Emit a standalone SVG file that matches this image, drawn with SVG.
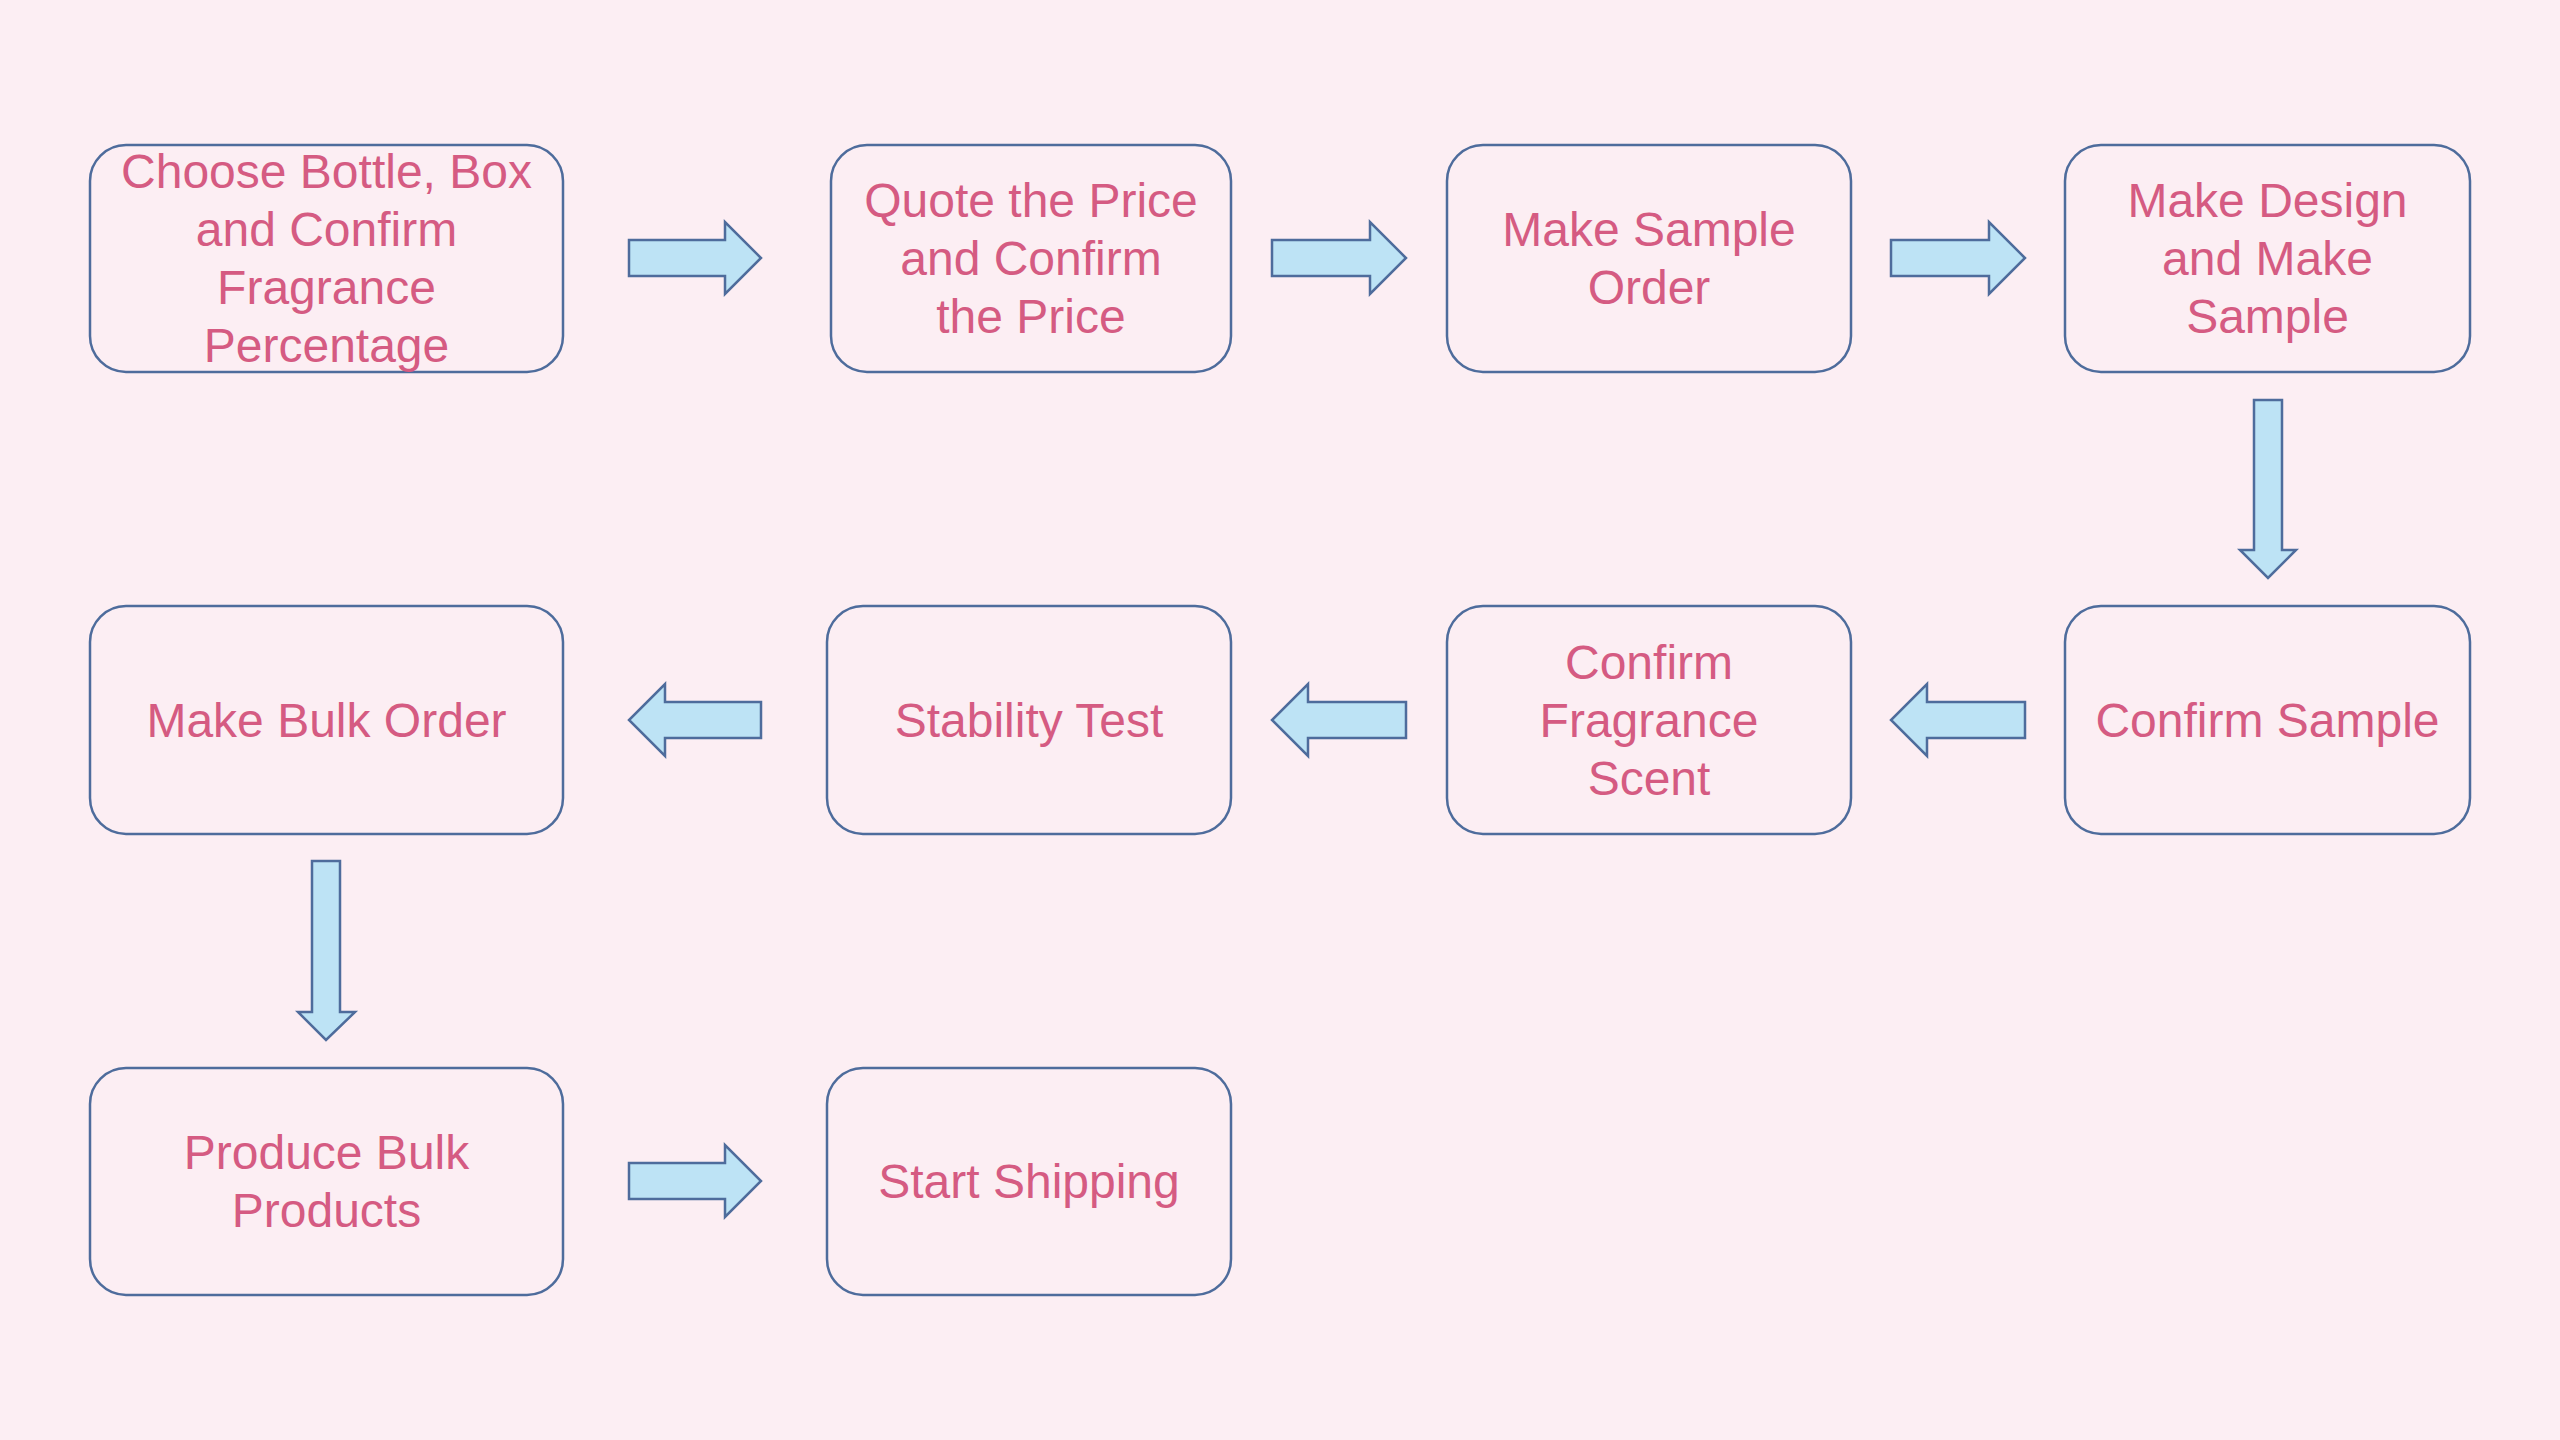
<svg xmlns="http://www.w3.org/2000/svg" width="2560" height="1440" viewBox="0 0 2560 1440">
<style>
.box{fill:#FCEEF3;stroke:#4E6C9C;stroke-width:2.5}
.lbl{font-family:"Liberation Sans",Arial,sans-serif;font-size:48px;fill:#D55B82;text-anchor:middle}
.arr{fill:#BDE3F5;stroke:#4E6C9C;stroke-width:2.5;stroke-linejoin:miter}
</style>
<rect width="2560" height="1440" fill="#FCEEF3"/>
<g id="connectors">
<path class="arr" d="M629,240 H725 V222 L761,258 L725,294 V276 H629 Z"/>
<path class="arr" d="M1272,240 H1370 V222 L1406,258 L1370,294 V276 H1272 Z"/>
<path class="arr" d="M1891,240 H1989 V222 L2025,258 L1989,294 V276 H1891 Z"/>
<path class="arr" d="M2254,400 H2282 V550 H2296 L2268,578 L2240,550 H2254 Z"/>
<path class="arr" d="M2025,702 H1927 V684 L1891,720 L1927,756 V738 H2025 Z"/>
<path class="arr" d="M1406,702 H1308 V684 L1272,720 L1308,756 V738 H1406 Z"/>
<path class="arr" d="M761,702 H665 V684 L629,720 L665,756 V738 H761 Z"/>
<path class="arr" d="M312,861 H340 V1012 H355 L326,1040 L298,1012 H312 Z"/>
<path class="arr" d="M629,1163 H725 V1145 L761,1181 L725,1217 V1199 H629 Z"/>
</g>
<g id="n1"><rect class="box" x="90" y="145" width="473" height="227" rx="36"/>
<text class="lbl" x="326.5" y="188">Choose Bottle, Box</text>
<text class="lbl" x="326.5" y="246">and Confirm</text>
<text class="lbl" x="326.5" y="304">Fragrance</text>
<text class="lbl" x="326.5" y="362">Percentage</text></g>
<g id="n2"><rect class="box" x="831" y="145" width="400" height="227" rx="36"/>
<text class="lbl" x="1031" y="217">Quote the Price</text>
<text class="lbl" x="1031" y="275">and Confirm</text>
<text class="lbl" x="1031" y="333">the Price</text></g>
<g id="n3"><rect class="box" x="1447" y="145" width="404" height="227" rx="36"/>
<text class="lbl" x="1649" y="246">Make Sample</text>
<text class="lbl" x="1649" y="304">Order</text></g>
<g id="n4"><rect class="box" x="2065" y="145" width="405" height="227" rx="36"/>
<text class="lbl" x="2267.5" y="217">Make Design</text>
<text class="lbl" x="2267.5" y="275">and Make</text>
<text class="lbl" x="2267.5" y="333">Sample</text></g>
<g id="n8"><rect class="box" x="2065" y="606" width="405" height="228" rx="36"/>
<text class="lbl" x="2267.5" y="737">Confirm Sample</text></g>
<g id="n7"><rect class="box" x="1447" y="606" width="404" height="228" rx="36"/>
<text class="lbl" x="1649" y="679">Confirm</text>
<text class="lbl" x="1649" y="737">Fragrance</text>
<text class="lbl" x="1649" y="795">Scent</text></g>
<g id="n6"><rect class="box" x="827" y="606" width="404" height="228" rx="36"/>
<text class="lbl" x="1029" y="737">Stability Test</text></g>
<g id="n5"><rect class="box" x="90" y="606" width="473" height="228" rx="36"/>
<text class="lbl" x="326.5" y="737">Make Bulk Order</text></g>
<g id="n9"><rect class="box" x="90" y="1068" width="473" height="227" rx="36"/>
<text class="lbl" x="326.5" y="1169">Produce Bulk</text>
<text class="lbl" x="326.5" y="1227">Products</text></g>
<g id="n10"><rect class="box" x="827" y="1068" width="404" height="227" rx="36"/>
<text class="lbl" x="1029" y="1198">Start Shipping</text></g>
</svg>
